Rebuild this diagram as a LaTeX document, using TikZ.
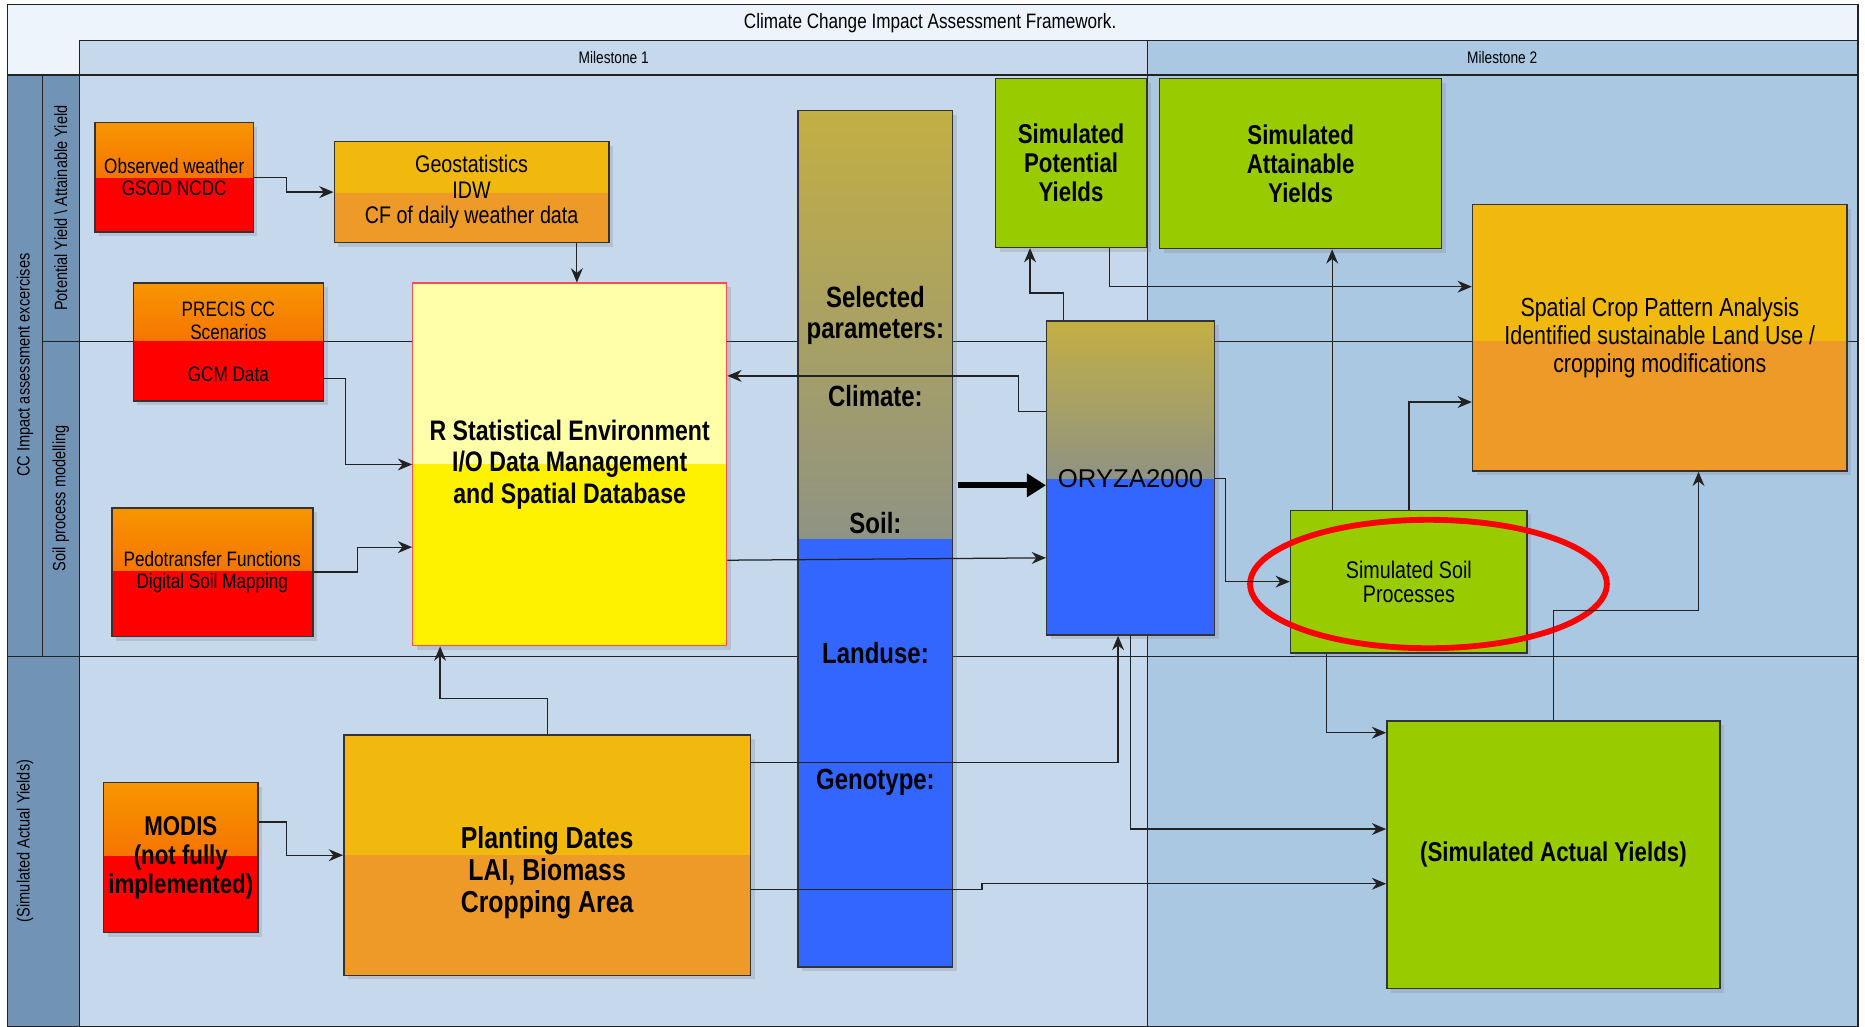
\documentclass[tikz,border=0pt]{standalone}
\usepackage{fontspec}
\setmainfont{Liberation Sans}
\newfontfamily\narrowsf{Liberation Sans}[FakeStretch=0.82]
\usetikzlibrary{arrows.meta,positioning,shapes.geometric,shadows}

\definecolor{titlebg}{HTML}{EEF4FC}
\definecolor{msone}{HTML}{C5D8EC}
\definecolor{mstwo}{HTML}{ABC8E2}
\definecolor{lanehd}{HTML}{7193B6}
\definecolor{orngtop}{HTML}{F79600}
\definecolor{orngbot}{HTML}{F45200}
\definecolor{ambtop}{HTML}{F1B80E}
\definecolor{ambbot}{HTML}{EE9A29}
\definecolor{simgreen}{HTML}{99CC00}
\definecolor{olivetop}{HTML}{C3AF43}
\definecolor{olivebot}{HTML}{5B77C3}
\definecolor{parblue}{HTML}{3366FF}
\definecolor{paleyel}{HTML}{FFFFAA}
\definecolor{lineclr}{HTML}{222222}

\begin{document}
\begin{tikzpicture}[
    x=0.02cm, y=-0.02cm,
    box/.style={draw=black!80, line width=0.7pt, align=center, inner sep=0pt,
        drop shadow={shadow xshift=0.07cm, shadow yshift=-0.07cm, opacity=0.25}},
    lowfill/.style 2 args={path picture={\fill[#1] (path picture bounding box.south west) rectangle ([yshift=#2]path picture bounding box.south east);}},
    srcbox/.style={box, top color=orngtop, bottom color=orngbot, font=\narrowsf\fontsize{10}{10.8}\selectfont},
    ambbox/.style={box, fill=ambtop},
    grnbox/.style={box, fill=simgreen},
    colbox/.style={box, top color=olivetop, bottom color=olivebot},
    coltxt/.style={align=center, font=\narrowsf\bfseries\fontsize{14}{14.8}\selectfont},
    lanetxt/.style={rotate=90, font=\narrowsf\fontsize{8.5}{9}\selectfont},
    hilite/.style={ellipse, draw=red, line width=2.8pt, minimum width=6cm, minimum height=2.16cm},
    arr/.style={draw=lineclr, line width=0.6pt, -{Stealth[length=2.4mm,width=2mm]}},
    bigarr/.style={draw=black, line width=2.8pt, -{Triangle[length=3.2mm,width=3.8mm]}}
]
\useasboundingbox (0,0) rectangle (1568,863);
\fill[white] (0,0) rectangle (1568,863);

% swimlane frame
\fill[titlebg] (6,4) rectangle (1562,63);
\fill[msone] (67,34) rectangle (965,863);
\fill[mstwo] (965,34) rectangle (1562,863);
\fill[lanehd] (6,63) rectangle (67,863);
\draw[lineclr, line width=0.6pt] (6,4) rectangle (1562,863);
\draw[lineclr, line width=0.6pt] (67,34) -- (1562,34);
\draw[lineclr, line width=0.6pt] (6,63) -- (1562,63);
\draw[lineclr, line width=0.6pt] (36,287) -- (1562,287);
\draw[lineclr, line width=0.6pt] (6,552) -- (1562,552);
\draw[lineclr, line width=0.6pt] (36,63) -- (36,552);
\draw[lineclr, line width=0.6pt] (67,34) -- (67,863);
\draw[lineclr, line width=0.6pt] (965,34) -- (965,863);

\node[font=\narrowsf\fontsize{10}{11}\selectfont] (title) at (782,19) {Climate Change Impact Assessment Framework.};
\node[font=\narrowsf\fontsize{8}{9}\selectfont] (msa) at (516,48) {Milestone 1};
\node[font=\narrowsf\fontsize{8}{9}\selectfont] (msb) at (1263,48) {Milestone 2};
\node[lanetxt] (lanecc) at (21,307) {CC Impact assessment excercises};
\node[lanetxt] (lanepot) at (51,175) {Potential Yield \textbackslash{} Attainable Yield};
\node[lanetxt] (lanesoil) at (51,419) {Soil process modelling};
\node[lanetxt] (laneact) at (21,707) {(Simulated Actual Yields)};

% inputs
\node[srcbox, minimum width=2.66cm, minimum height=1.84cm, lowfill={red}{0.9cm}] (obsw) at (146.5,149) {Observed weather\\GSOD NCDC};
\node[ambbox, minimum width=4.62cm, minimum height=1.7cm, lowfill={ambbot}{0.84cm},
    font=\narrowsf\fontsize{11.5}{12.2}\selectfont] (geo) at (396.5,161.5) {Geostatistics\\IDW\\CF of daily weather data};
\node[srcbox, minimum width=3.2cm, minimum height=1.98cm, lowfill={red}{1.0cm}] (precis) at (192,287.5) {PRECIS CC\\Scenarios\\[9.5pt]GCM Data};
\node[srcbox, minimum width=3.38cm, minimum height=2.16cm, lowfill={red}{1.1cm}] (pedo) at (178.5,481) {Pedotransfer Functions\\Digital Soil Mapping};
\node[srcbox, minimum width=2.6cm, minimum height=2.52cm, lowfill={red}{1.28cm},
    font=\narrowsf\bfseries\fontsize{13}{13.9}\selectfont] (modis) at (152,721) {MODIS\\(not fully\\implemented)};
\node[box, draw=red!70, line width=0.6pt, fill=paleyel, lowfill={yellow}{3.06cm}, minimum width=5.28cm, minimum height=6.1cm,
    font=\narrowsf\bfseries\fontsize{13.5}{15}\selectfont] (rstat) at (479,390.5) {R Statistical Environment\\I/O Data Management\\and Spatial Database};
\node[ambbox, minimum width=6.84cm, minimum height=4.04cm, lowfill={ambbot}{2.02cm},
    label={[font=\narrowsf\bfseries\fontsize{14.5}{15.3}\selectfont, align=center, yshift=-0.3cm]center:Planting Dates\\LAI, Biomass\\Cropping Area}] (plant) at (460,719) {};

% parameters and model
\node[colbox, minimum width=2.6cm, minimum height=14.4cm, lowfill={parblue}{7.2cm}] (selpar) at (736,453) {};
\node[coltxt] (selhead) at (736,265) {Selected\\parameters:};
\node[coltxt] (climate) at (736,333) {Climate:};
\node[coltxt] (soil) at (736,440) {Soil:};
\node[coltxt] (landuse) at (736,549) {Landuse:};
\node[coltxt] (genotype) at (736,658) {Genotype:};
\node[colbox, minimum width=2.82cm, minimum height=5.28cm, lowfill={parblue}{2.62cm},
    font=\fontsize{12.3}{13}\selectfont] (oryza) at (950.5,402) {ORYZA2000};

% outputs
\node[grnbox, minimum width=2.54cm, minimum height=2.84cm,
    font=\narrowsf\bfseries\fontsize{13}{13.9}\selectfont] (simpot) at (900.5,137) {Simulated\\Potential\\Yields};
\node[grnbox, minimum width=4.74cm, minimum height=2.86cm,
    font=\narrowsf\bfseries\fontsize{13}{13.9}\selectfont] (simatt) at (1093.5,137.5) {Simulated\\Attainable\\Yields};
\node[ambbox, minimum width=6.3cm, minimum height=4.48cm, lowfill={ambbot}{2.18cm},
    font=\narrowsf\fontsize{12.5}{13.3}\selectfont] (spatial) at (1395.5,284) {Spatial Crop Pattern Analysis\\Identified sustainable Land Use /\\cropping modifications};
\node[grnbox, minimum width=3.98cm, minimum height=2.4cm,
    font=\narrowsf\fontsize{11.5}{11.4}\selectfont] (simsoil) at (1184.5,489) {Simulated Soil\\Processes};
\node[grnbox, minimum width=5.6cm, minimum height=4.5cm,
    font=\narrowsf\bfseries\fontsize{13}{13.9}\selectfont] (simact) at (1306,718.5) {(Simulated Actual Yields)};
\node[hilite] (soilmark) at (1201,491) {};

% connectors
\draw[arr] (obsw.east) -- ++(0.54cm,0) |- (geo.west);
\draw[arr] ([xshift=1.77cm]geo.south) -- ([xshift=1.77cm]geo.south |- rstat.north);
\draw[arr] ([yshift=-0.61cm]precis.east) -- ++(0.36cm,0) |- (rstat.west);
\draw[arr] (pedo.east) -- ++(0.74cm,0) |- ([yshift=-1.39cm]rstat.west);
\draw[arr] ([yshift=0.6cm]modis.east) -- ++(0.46cm,0) |- (plant.west);
\draw[arr] (plant.north) -- ++(0,0.6cm) -| ([xshift=-2.18cm]rstat.south);
\draw[arr] ([yshift=1.12cm]oryza.west) -- ++(-0.46cm,0) |- ([yshift=1.49cm]rstat.east);
\draw[arr] ([yshift=-1.61cm]rstat.east) -- ([yshift=-1.34cm]oryza.west);
\draw[bigarr, shorten <=0.08cm] ([yshift=0.9cm]selpar.east) -- ([yshift=0.9cm]selpar.east -| oryza.west);
\draw[arr] ([yshift=1.56cm]plant.east) -| ([xshift=-0.21cm]oryza.south);
\draw[arr] ([yshift=-0.58cm]plant.east) -- ++(3.88cm,0) |- ([yshift=-0.49cm]simact.west);
\draw[arr] (oryza.south) |- ([yshift=0.43cm]simact.west);
\draw[arr] ([xshift=-1.13cm]oryza.north) -- ++(0,0.46cm) -| ([xshift=-0.69cm]simpot.south);
\draw[arr] ([xshift=0.65cm]simpot.south) |- ([yshift=0.86cm]spatial.west);
\draw[arr] (oryza.east) -- ++(0.18cm,0) |- (simsoil.west);
\draw[arr] ([xshift=-1.29cm]simsoil.north) -- ([xshift=-1.29cm]simsoil.north |- simatt.south);
\draw[arr] (simsoil.north) |- ([yshift=-1.08cm]spatial.west);
\draw[arr] ([xshift=-1.39cm]simsoil.south) |- ([yshift=2.05cm]simact.west);
\draw[arr] (simact.north) -- ++(0,1.84cm) -| ([xshift=0.65cm]spatial.south);
\end{tikzpicture}
\end{document}
